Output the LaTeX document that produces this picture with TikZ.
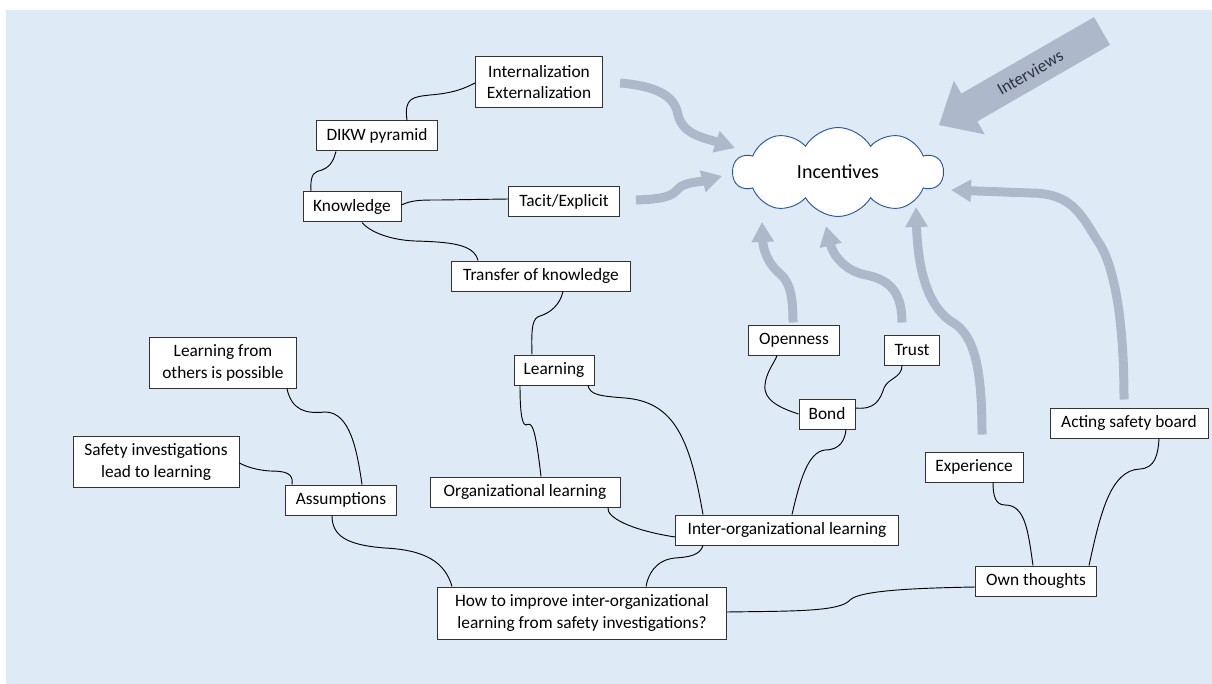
\documentclass[tikz,border=0pt]{standalone}
\usepackage{fontspec}
\setmainfont{Carlito}
\usepackage{tikz}
\usetikzlibrary{arrows.meta,calc,shapes.symbols}
\definecolor{panelblue}{HTML}{DEEBF7}
\definecolor{flowgray}{HTML}{ADB9CA}
\definecolor{cloudline}{HTML}{2F5597}
\definecolor{arrowtext}{HTML}{2B3340}

\begin{document}
\begin{tikzpicture}[x=0.75pt,y=-0.75pt,
  box/.style={draw=black!80,fill=white,line width=0.75pt,align=center,
    font=\fontsize{13}{16}\selectfont,inner xsep=2pt,inner ysep=2pt,minimum height=22.5pt},
  twoline/.style={box,minimum height=38.25pt},
  link/.style={line width=0.7pt},
  flow/.style={draw=flowgray,line width=6.75pt,-{Triangle[length=15pt,width=16pt]}}]
  \useasboundingbox (0,0) rectangle (1212,684);
  \fill[panelblue] (6,10) rectangle (1212,684);

  % the goal in the middle
  \node[cloud,cloud puffs=10,cloud puff arc=120,cloud ignores aspect,draw=cloudline,
    fill=white,line width=0.7pt,minimum width=157.5pt,minimum height=66.75pt,
    font=\fontsize{15}{18}\selectfont] (incent) at (838,172) {Incentives};

  % Interviews block arrow
  \fill[flowgray] (1094,17.1) -- (961.3,93.6) -- (953.8,80.6) -- (939,125)
    -- (984.8,134.4) -- (977.3,121.4) -- (1110,44.9) -- cycle;
  \node[rotate=30,text=arrowtext,font=\fontsize{13}{16}\selectfont,inner sep=0pt] (interviews)
    at (1030,72.5) {Interviews};

  % boxes
  \node[twoline,minimum width=95.25pt] (intext) at (539,82) {Internalization\\Externalization};
  \node[box,minimum width=90.75pt] (dikw) at (377,136) {DIKW pyramid};
  \node[box,minimum width=73.5pt] (know) at (352,207) {Knowledge};
  \node[box,minimum width=83.25pt] (tacit) at (564,202) {Tacit/Explicit};
  \node[box,minimum width=134.25pt] (transfer) at (541,276) {Transfer of knowledge};
  \node[twoline,minimum width=110.25pt] (others) at (223,363) {Learning from\\others is possible};
  \node[twoline,minimum width=124.5pt] (safety) at (156,462) {Safety investigations\\lead to learning};
  \node[box,minimum width=83.25pt] (assum) at (341,500) {Assumptions};
  \node[box,minimum width=60pt] (learn) at (554,370) {Learning};
  \node[box,minimum width=142.5pt] (orgl) at (525,492) {Organizational learning};
  \node[box,minimum width=167.25pt] (inter) at (787,530) {Inter-organizational learning};
  \node[box,minimum width=68.25pt] (open) at (794,340) {Openness};
  \node[box,minimum width=42pt] (bond) at (827,414) {Bond};
  \node[box,minimum width=41.25pt] (trust) at (912,350) {Trust};
  \node[box,minimum width=73.5pt] (exper) at (974,467) {Experience};
  \node[box,minimum width=118.5pt] (acting) at (1129,423) {Acting safety board};
  \node[box,minimum width=90.75pt] (own) at (1036,581) {Own thoughts};
  \node[twoline,minimum width=216.75pt,minimum height=39pt] (howto) at (582,613)
    {How to improve inter-organizational\\learning from safety investigations?};

  % gray flows towards the cloud
  \coordinate (tipA) at (735,148);
  \coordinate (tipB) at (722,176);
  \coordinate (tipC) at (762,222);
  \coordinate (tipD) at (826,226);
  \coordinate (tipE) at (916,207);
  \coordinate (tipF) at (951,190);
  \draw[flow] ($(intext.east)+(17,1)$) .. controls (655,86) and (675,95) .. (678,115)
    .. controls (683,135) and (705,138) .. (tipA);
  \draw[flow] ($(tacit.east)+(16,-2)$) .. controls (665,199) and (672,196) .. (678,189)
    .. controls (684,182) and (700,182) .. (tipB);
  \draw[flow] ($(open.north)+(-1,-2)$) .. controls (793,290) and (788,280) .. (778,272)
    .. controls (767,262) and (763,248) .. (tipC);
  \draw[flow] ($(trust.north)+(-10,-12)$) .. controls (902,295) and (892,280) .. (866,275)
    .. controls (845,271) and (833,255) .. (tipD);
  \draw[flow] ($(exper.north)+(8,-17)$) .. controls (982,370) and (975,335) .. (952,322)
    .. controls (930,308) and (918,275) .. (tipE);
  \draw[flow] ($(acting.north)+(-5,-8)$) .. controls (1124,310) and (1112,260) .. (1097,240)
    .. controls (1080,212) and (1070,193) .. (1030,193) -- (tipF);

  % links between the boxes
  \draw[link] ($(dikw.north)+(30,0)$) .. controls (404,98) and (412,97) .. (430,95)
    .. controls (455,93) and (465,88) .. ($(intext.west)+(0,1)$);
  \draw[link] ($(know.north)+(-41,0)$) .. controls (310,172) and (315,172) .. (322,170)
    .. controls (332,166) and (334,158) .. ($(dikw.south)+(-41,0)$);
  \draw[link] ($(know.east)+(0,-2)$) .. controls (412,200) and (420,200) .. (440,200)
    -- ($(tacit.west)+(0,-3)$);
  \draw[link] ($(know.south)+(10,0)$) .. controls (370,232) and (390,240) .. (415,241)
    .. controls (450,242) and (474,244) .. ($(transfer.north)+(-63,0)$);
  \draw[link] ($(transfer.south)+(22,0)$) .. controls (560,305) and (550,313) .. (540,316)
    .. controls (533,318) and (531,325) .. ($(learn.north)+(-22,0)$);
  \draw[link] ($(learn.south)+(-34,0)$) .. controls (520,405) and (521,425) .. (526,425)
    .. controls (532,422) and (535,425) .. ($(orgl.north)+(16,0)$);
  \draw[link] ($(learn.south)+(34,0)$) .. controls (590,395) and (600,396) .. (625,398)
    .. controls (675,402) and (690,440) .. ($(inter.north)+(-84,0)$);
  \draw[link] ($(orgl.south)+(83,0)$) .. controls (606,517) and (630,530) .. ($(inter.west)+(0,7)$);
  \draw[link] ($(inter.north)+(5,0)$) .. controls (800,480) and (808,452) .. (825,450)
    .. controls (840,450) and (845,440) .. ($(bond.south)+(19,0)$);
  \draw[link] (bond.west) .. controls (780,408) and (763,400) .. (765,385)
    .. controls (766,372) and (775,362) .. ($(open.south)+(-17,0)$);
  \draw[link] ($(bond.east)+(0,-6)$) .. controls (875,410) and (880,400) .. (884,388)
    .. controls (888,378) and (902,378) .. ($(trust.south)+(-10,0)$);
  \draw[link] ($(inter.south)+(-84,0)$) .. controls (700,555) and (690,557) .. (675,558)
    .. controls (655,560) and (648,575) .. ($(howto.north)+(64,0)$);
  \draw[link] ($(assum.south)+(-9,0)$) .. controls (332,535) and (345,545) .. (385,548)
    .. controls (425,550) and (445,562) .. ($(howto.north)+(-130,0)$);
  \draw[link] ($(howto.east)+(0,-1)$) .. controls (790,611) and (840,612) .. (850,600)
    .. controls (860,590) and (920,588) .. ($(own.west)+(0,6)$);
  \draw[link] ($(own.north)+(-3,0)$) .. controls (1028,530) and (1025,505) .. (1005,505)
    .. controls (995,505) and (993,495) .. ($(exper.south)+(19,0)$);
  \draw[link] ($(own.north)+(53,0)$) .. controls (1100,515) and (1110,470) .. (1140,469)
    .. controls (1155,468) and (1158,455) .. ($(acting.south)+(30,0)$);
  \draw[link] ($(assum.north)+(21,0)$) .. controls (357,450) and (350,412) .. (325,412)
    .. controls (305,414) and (292,410) .. ($(others.south)+(64,0)$);
  \draw[link] ($(assum.north)+(-49,0)$) .. controls (294,473) and (285,471) .. (270,471)
    .. controls (255,470) and (245,466) .. ($(safety.east)+(0,1)$);
\end{tikzpicture}
\end{document}
